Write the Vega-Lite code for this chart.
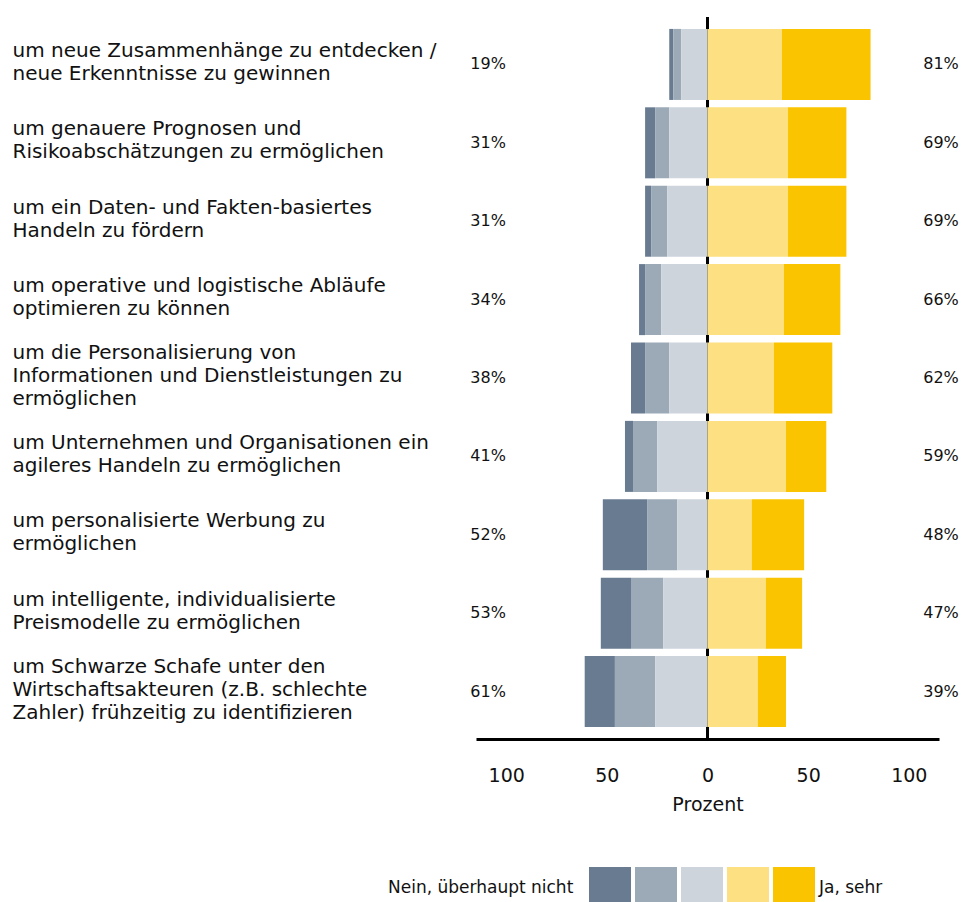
{
  "$schema": "https://vega.github.io/schema/vega-lite/v6.json",
  "width": 463,
  "height": 722,
  "padding": {"left": 12, "top": 15, "right": 0, "bottom": 0},
  "background": "white",
  "config": {"view": {"stroke": null}, "font": "DejaVu Sans"},
  "data": {
    "values": [
      {"frage": "um neue Zusammenhänge zu entdecken /\nneue Erkenntnisse zu gewinnen", "nein3": -2, "nein2": -4, "nein1": -13, "ja1": 37, "ja2": 44, "nein": 0.19, "ja": 0.81},
      {"frage": "um genauere Prognosen und\nRisikoabschätzungen zu ermöglichen", "nein3": -5, "nein2": -7, "nein1": -19, "ja1": 40, "ja2": 29, "nein": 0.31, "ja": 0.69},
      {"frage": "um ein Daten- und Fakten-basiertes\nHandeln zu fördern", "nein3": -3, "nein2": -8, "nein1": -20, "ja1": 40, "ja2": 29, "nein": 0.31, "ja": 0.69},
      {"frage": "um operative und logistische Abläufe\noptimieren zu können", "nein3": -3, "nein2": -8, "nein1": -23, "ja1": 38, "ja2": 28, "nein": 0.34, "ja": 0.66},
      {"frage": "um die Personalisierung von\nInformationen und Dienstleistungen zu\nermöglichen", "nein3": -7, "nein2": -12, "nein1": -19, "ja1": 33, "ja2": 29, "nein": 0.38, "ja": 0.62},
      {"frage": "um Unternehmen und Organisationen ein\nagileres Handeln zu ermöglichen", "nein3": -4, "nein2": -12, "nein1": -25, "ja1": 39, "ja2": 20, "nein": 0.41, "ja": 0.59},
      {"frage": "um personalisierte Werbung zu\nermöglichen", "nein3": -22, "nein2": -15, "nein1": -15, "ja1": 22, "ja2": 26, "nein": 0.52, "ja": 0.48},
      {"frage": "um intelligente, individualisierte\nPreismodelle zu ermöglichen", "nein3": -15, "nein2": -16, "nein1": -22, "ja1": 29, "ja2": 18, "nein": 0.53, "ja": 0.47},
      {"frage": "um Schwarze Schafe unter den\nWirtschaftsakteuren (z.B. schlechte\nZahler) frühzeitig zu identifizieren", "nein3": -15, "nein2": -20, "nein1": -26, "ja1": 25, "ja2": 14, "nein": 0.61, "ja": 0.39}
    ]
  },
  "layer": [
    {
      "mark": {"type": "rule", "color": "black", "strokeWidth": 2.5},
      "encoding": {"x": {"datum": 0, "type": "quantitative"}}
    },
    {
      "transform": [{"fold": ["nein3", "nein2", "nein1", "ja1", "ja2"], "as": ["stufe", "wert"]}],
      "mark": {"type": "bar"},
      "encoding": {
        "y": {
          "field": "frage", "type": "nominal", "sort": null,
          "scale": {"paddingInner": 0.094, "paddingOuter": 0.152},
          "axis": {
            "title": null, "domain": false, "ticks": false,
            "labelAlign": "left", "labelPadding": 464, "labelFontSize": 20,
            "labelLineHeight": 23, "labelLimit": 600, "labelBaseline": "middle",
            "labelOffset": {"expr": "-(length(split(datum.label, '\\n')) - 1) * 11.5 - 2"},
            "labelExpr": "split(datum.label, '\\n')", "labelColor": "#111"
          }
        },
        "x": {
          "field": "wert", "type": "quantitative", "stack": "zero",
          "scale": {"domain": [-115, 115], "nice": false},
          "axis": {
            "values": [-100, -50, 0, 50, 100], "labelExpr": "abs(datum.value)",
            "title": "Prozent", "grid": false, "ticks": false,
            "domainColor": "black", "domainWidth": 3,
            "labelFontSize": 19, "labelPadding": 27, "labelColor": "#111",
            "titleFontSize": 19, "titleFontWeight": "normal", "titlePadding": 10, "titleColor": "#111"
          }
        },
        "color": {
          "field": "stufe", "type": "nominal",
          "scale": {
            "domain": ["nein3", "nein2", "nein1", "ja1", "ja2"],
            "range": ["#687b90", "#9caab7", "#cdd4dc", "#fce081", "#fbc400"]
          },
          "legend": {
            "orient": "none", "legendX": -88, "legendY": 850,
            "direction": "horizontal", "columns": 5,
            "title": "Nein, überhaupt nicht", "titleOrient": "left", "titleLimit": 500,
            "titleFontSize": 17, "titleFontWeight": "normal", "titlePadding": 15,
            "titleColor": "#111", "titleBaseline": "middle",
            "labelFontSize": 17, "labelColor": "#111", "labelLimit": 300,
            "labelExpr": "datum.value == 'ja2' ? '\u00a0Ja, sehr' : ''",
            "symbolType": "square", "symbolSize": 1764, "symbolStrokeWidth": 0, "symbolOpacity": 1,
            "labelOffset": 4, "columnPadding": 0
          }
        },
        "order": {"field": "stufe", "sort": "ascending"}
      }
    },
    {
      "mark": {"type": "text", "fontSize": 16, "color": "#111"},
      "encoding": {
        "y": {"field": "frage", "type": "nominal", "sort": null},
        "x": {"datum": -109, "type": "quantitative"},
        "text": {"field": "nein", "format": ".0%"}
      }
    },
    {
      "mark": {"type": "text", "fontSize": 16, "color": "#111"},
      "encoding": {
        "y": {"field": "frage", "type": "nominal", "sort": null},
        "x": {"datum": 116, "type": "quantitative"},
        "text": {"field": "ja", "format": ".0%"}
      }
    }
  ]
}
